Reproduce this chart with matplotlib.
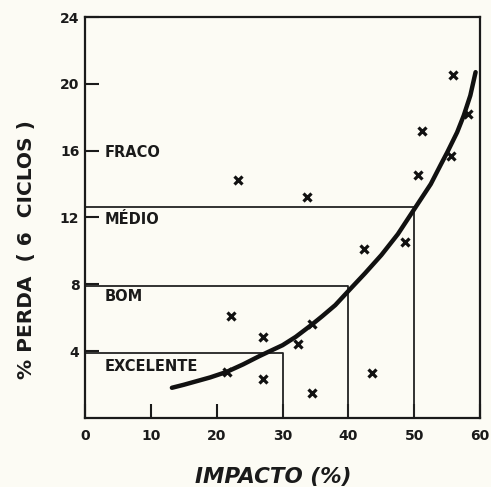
import matplotlib
matplotlib.use("Agg")
import matplotlib.pyplot as plt

# pontos medidos (impacto %, perda % em 6 ciclos)
impacto = [23.3, 33.7, 55.9, 58.2, 51.2, 55.5, 50.5, 48.6, 42.4,
           22.2, 27.1, 32.4, 34.5, 21.6, 27.1, 34.5, 43.5]
perda = [14.25, 13.2, 20.5, 18.2, 17.2, 15.7, 14.55, 10.5, 10.1,
         6.1, 4.85, 4.4, 5.6, 2.75, 2.3, 1.5, 2.7]

# curva media
curva_x = [13.2, 15, 17, 19, 21.5, 24, 26.5, 28, 30, 32, 34.5, 36, 38, 40,
           42.5, 45, 47.5, 50, 52.5, 54, 55, 56.5, 57.5, 58.5, 59.3]
curva_y = [1.8, 1.98, 2.2, 2.42, 2.75, 3.2, 3.7, 3.98, 4.35, 4.85, 5.6, 6.08, 6.75, 7.6,
           8.65, 9.75, 11.0, 12.5, 14.0, 15.15, 15.9, 17.1, 18.1, 19.3, 20.7]

# limites das classes
classes = ["EXCELENTE", "BOM", "MÉDIO", "FRACO"]
lim_impacto = [30, 40, 50]
lim_perda = [3.9, 7.9, 12.6]
pos_rotulo = [3.1, 7.25, 11.9, 15.9]

xticks = [0, 10, 20, 30, 40, 50, 60]
yticks = [4, 8, 12, 16, 20, 24]

papel = "#fcfbf4"
fig = plt.figure(figsize=(4.91, 4.87), dpi=100, facecolor=papel)
ax = fig.add_axes([0.173, 0.142, 0.805, 0.823], facecolor=papel)

for xl, yl in zip(lim_impacto, lim_perda):
    ax.plot([0, xl, xl], [yl, yl, 0], color="#222222", lw=1.3)

ax.plot(curva_x, curva_y, color="#111111", lw=3.2, solid_capstyle="round",
        solid_joinstyle="round")
ax.plot(impacto, perda, linestyle="none", marker="x", color="#111111",
        markersize=6, markeredgewidth=2.3)

for nome, yy in zip(classes, pos_rotulo):
    ax.text(3.0, yy, nome, ha="left", va="center", fontsize=10.5,
            fontweight="bold", color="#1a1a1a")

ax.set_xlim(0, 60)
ax.set_ylim(0, 24)
ax.set_xticks(xticks)
ax.set_yticks(yticks)
ax.tick_params(direction="in", length=10, width=1.5, colors="#1a1a1a")
ax.tick_params(axis="x", pad=8)
ax.tick_params(axis="y", pad=4)
for lbl in ax.get_xticklabels() + ax.get_yticklabels():
    lbl.set_fontweight("bold")
    lbl.set_fontsize(10)
for s in ax.spines.values():
    s.set_linewidth(1.6)
    s.set_color("#1a1a1a")

ax.set_ylabel("% PERDA  ( 6  CICLOS )", fontsize=14.5, fontweight="bold", color="#1a1a1a")
ax.yaxis.set_label_coords(-0.125, 0.42)
ax.set_xlabel("IMPACTO (%)", fontsize=15.5, fontweight="bold", fontstyle="italic",
              color="#1a1a1a")
ax.xaxis.set_label_coords(0.476, -0.122)

fig.savefig("out.png", dpi=100, facecolor=papel)
